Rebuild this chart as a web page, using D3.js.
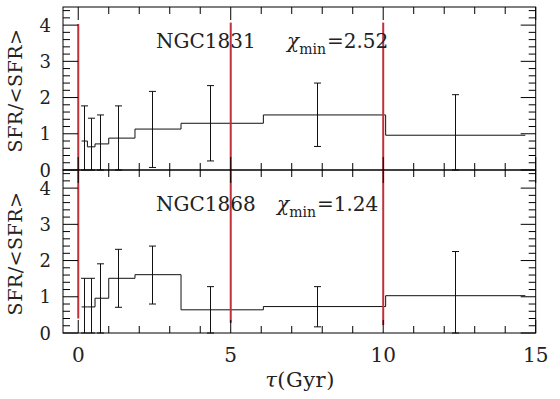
<!DOCTYPE html>
<html><head><meta charset="utf-8">
<script src="https://cdn.jsdelivr.net/npm/d3@7"></script>
<style>body{margin:0;background:#fff}svg{display:block}</style>
</head><body>
<script>
// ---- data ----
const binEdges = [0.11, 0.30, 0.55, 1.0, 1.86, 3.37, 6.07, 10.08, 14.66];
const sfr1831 = [0.80, 0.64, 0.72, 0.88, 1.13, 1.29, 1.52, 0.96];
const sfr1868 = [0.72, 0.72, 0.96, 1.51, 1.61, 0.64, 0.73, 1.03];
const errX = [0.19, 0.42, 0.71, 1.31, 2.41, 4.33, 7.82, 12.36];
const err1831Lo = [0, 0, 0, 0, 0.07, 0.25, 0.65, 0];
const err1831Hi = [1.77, 1.43, 1.52, 1.77, 2.17, 2.33, 2.40, 2.08];
const err1868Lo = [0, 0, 0, 0.71, 0.80, 0, 0.17, 0];
const err1868Hi = [1.51, 1.51, 1.91, 2.31, 2.40, 1.28, 1.28, 2.25];
const redX = [0, 5, 10];
const red1831Top = [4.03, 4.07, 4.07];
const red1868Bottom = [0.40, 0.28, 0.22];
const xTickLabels = [0, 5, 10, 15];
const yTickLabels = [0, 1, 2, 3, 4];
const panels = [
  {name: "NGC1831", chi: "2.52", sfr: sfr1831, lo: err1831Lo, hi: err1831Hi, redLo: [0,0,0], redHi: red1831Top},
  {name: "NGC1868", chi: "1.24", sfr: sfr1868, lo: err1868Lo, hi: err1868Hi, redLo: red1868Bottom, redHi: [4.5,4.5,4.5]}
];

const W = 560, H = 399;
const L = 63, R = 535.7, T = 7, PH = 163;
const FONT = "DejaVu Serif";
const svg = d3.select("body").append("svg").attr("width", W).attr("height", H)
  .style("font-family", FONT);
const x = d3.scaleLinear().domain([-0.5, 15]).range([L, R]);
const RED = "#c2303a";
const INK = "#222";

panels.forEach((p, i) => {
  const top = T + i * PH, bot = top + PH;
  const y = d3.scaleLinear().domain([0, 4.5]).range([bot, top]);
  const g = svg.append("g");

  // step histogram
  const pts = [];
  p.sfr.forEach((v, k) => { pts.push([binEdges[k], v]); pts.push([binEdges[k+1], v]); });
  g.append("path").attr("d", d3.line().x(d => x(d[0])).y(d => y(d[1]))(pts))
    .attr("fill", "none").attr("stroke", "#111").attr("stroke-width", 1);

  // error bars
  errX.forEach((ex, k) => {
    const cx = Math.round(x(ex)) + 0.5;
    g.append("line").attr("x1", cx).attr("x2", cx).attr("y1", y(p.lo[k])).attr("y2", y(p.hi[k]))
      .attr("stroke", "#111").attr("stroke-width", 1);
    [p.lo[k], p.hi[k]].forEach(v => {
      g.append("line").attr("x1", cx - 3.5).attr("x2", cx + 3.5).attr("y1", y(v)).attr("y2", y(v))
        .attr("stroke", "#111").attr("stroke-width", 1);
    });
  });

  // red lines
  redX.forEach((rx, k) => {
    g.append("line").attr("x1", x(rx)).attr("x2", x(rx)).attr("y1", y(p.redLo[k])).attr("y2", y(p.redHi[k]))
      .attr("stroke", RED).attr("stroke-width", 2);
  });

  // frame
  g.append("rect").attr("x", L).attr("y", top).attr("width", R - L).attr("height", PH)
    .attr("fill", "none").attr("stroke", "#000").attr("stroke-width", 1);

  // y ticks (both sides)
  d3.range(0, 4.5, 0.2).forEach(v => {
    const major = Math.abs(v - Math.round(v)) < 1e-6;
    const len = major ? 15 : 7;
    const yy = y(v);
    g.append("line").attr("x1", L).attr("x2", L + len).attr("y1", yy).attr("y2", yy).attr("stroke", "#000");
    g.append("line").attr("x1", R).attr("x2", R - len).attr("y1", yy).attr("y2", yy).attr("stroke", "#000");
  });
  // x ticks (top and bottom of panel)
  d3.range(0, 16, 1).forEach(v => {
    const major = v % 5 === 0;
    const len = major ? 13 : 7;
    const xx = x(v);
    g.append("line").attr("x1", xx).attr("x2", xx).attr("y1", top).attr("y2", top + len).attr("stroke", "#000");
    g.append("line").attr("x1", xx).attr("x2", xx).attr("y1", bot).attr("y2", bot - len).attr("stroke", "#000");
  });

  // y tick labels
  g.selectAll(".yl").data(yTickLabels).enter().append("text")
    .attr("x", 51).attr("y", d => y(d) + 6.5).attr("text-anchor", "end")
    .attr("font-size", 18).attr("fill", INK).text(d => d);

  // y axis title
  g.append("text").attr("transform", `translate(22,${(top + bot) / 2 + 2}) rotate(-90)`)
    .attr("text-anchor", "middle").attr("font-size", 19).attr("fill", INK)
    .attr("letter-spacing", 0.5).text("SFR/<SFR>");

  // panel labels
  g.append("text").attr("x", 156).attr("y", top + 41).attr("font-size", 20).attr("fill", INK)
    .text(p.name);
  const chi = g.append("text").attr("x", i === 0 ? 287 : 277).attr("y", top + 41)
    .attr("font-size", 20).attr("fill", INK);
  chi.append("tspan").attr("font-style", "italic").text("χ");
  chi.append("tspan").attr("font-size", 14).attr("dy", 6).text("min");
  chi.append("tspan").attr("dy", -6).attr("dx", 1).text("=" + p.chi);
});

// x tick labels
svg.selectAll(".xl").data(xTickLabels).enter().append("text")
  .attr("x", d => x(d)).attr("y", 362).attr("text-anchor", "middle")
  .attr("font-size", 20).attr("fill", INK).text(d => d);

// x axis title
const xt = svg.append("text").attr("x", 300).attr("y", 387).attr("text-anchor", "middle")
  .attr("font-size", 21).attr("letter-spacing", 0.5).attr("fill", INK);
xt.append("tspan").attr("font-style", "italic").text("τ");
xt.append("tspan").text("(Gyr)");
</script>
</body></html>
